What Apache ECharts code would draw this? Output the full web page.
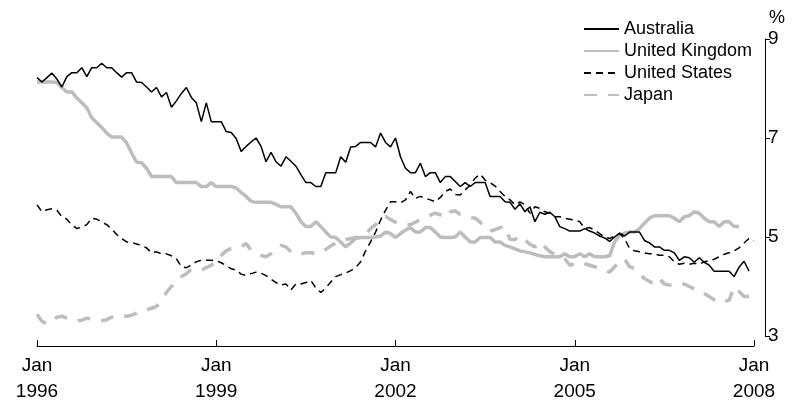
<!DOCTYPE html>
<html>
<head>
<meta charset="utf-8">
<script src="https://cdn.jsdelivr.net/npm/echarts@6/dist/echarts.min.js"></script>
<style>
html,body{margin:0;padding:0;background:#fff;}
#chart{width:796px;height:405px;}
</style>
</head>
<body>
<div id="chart"></div>
<script>
// Monthly categories, Jan 1996 .. Jan 2008
const months = [];
for (let y = 1996; y <= 2008; y++) {
  for (let m = 1; m <= 12; m++) {
    if (y === 2008 && m > 1) break;
    months.push(y + '-' + (m < 10 ? '0' + m : m));
  }
}
const xTickLabels = ['Jan\n1996', 'Jan\n1999', 'Jan\n2002', 'Jan\n2005', 'Jan\n2008'];
const yTicks = [3, 5, 7, 9];

const australia = [
8.22,8.13,8.22,8.31,8.19,8.03,8.24,8.32,8.32,8.42,8.24,8.42,
8.42,8.51,8.42,8.42,8.32,8.23,8.32,8.32,8.13,8.12,8.03,7.93,
8.02,7.83,7.92,7.62,7.75,7.90,8.02,7.82,7.71,7.33,7.71,7.33,
7.33,7.33,7.13,7.11,6.99,6.73,6.83,6.92,7.00,6.83,6.52,6.71,
6.52,6.43,6.62,6.53,6.43,6.26,6.10,6.10,6.02,6.02,6.30,6.30,
6.30,6.62,6.51,6.82,6.83,6.91,6.91,6.91,6.82,7.10,6.91,6.82,
7.00,6.62,6.39,6.30,6.30,6.49,6.22,6.30,6.30,6.10,6.22,6.22,
6.12,6.02,6.10,6.02,6.10,6.10,6.10,5.82,5.82,5.82,5.71,5.70,
5.56,5.67,5.51,5.61,5.31,5.50,5.46,5.50,5.41,5.21,5.17,5.12,
5.12,5.12,5.17,5.12,5.08,5.02,4.98,4.91,5.00,5.08,5.02,5.10,
5.10,5.10,4.93,4.88,4.80,4.80,4.73,4.73,4.68,4.53,4.60,4.58,
4.49,4.58,4.49,4.43,4.31,4.31,4.31,4.31,4.20,4.39,4.51,4.31
];
const unitedKingdom = [
8.13,8.13,8.13,8.13,8.12,8.02,7.93,7.93,7.81,7.71,7.61,7.41,
7.31,7.21,7.10,7.02,7.02,7.02,6.90,6.70,6.51,6.50,6.39,6.22,
6.22,6.22,6.22,6.22,6.10,6.10,6.10,6.10,6.10,6.02,6.02,6.10,
6.02,6.02,6.02,6.02,5.99,5.90,5.82,5.72,5.70,5.70,5.70,5.70,
5.66,5.61,5.61,5.61,5.48,5.31,5.21,5.21,5.31,5.21,5.10,5.00,
4.99,4.90,4.80,4.88,4.97,4.99,4.99,4.99,5.00,5.02,5.10,5.07,
4.99,5.07,5.14,5.19,5.10,5.10,5.19,5.19,5.10,5.00,4.99,4.99,
5.00,5.10,5.00,4.90,4.90,4.99,4.99,4.99,4.90,4.90,4.83,4.80,
4.76,4.72,4.70,4.68,4.65,4.62,4.60,4.60,4.60,4.60,4.66,4.60,
4.60,4.66,4.60,4.66,4.60,4.60,4.60,4.62,4.90,5.04,5.08,5.10,
5.10,5.17,5.28,5.38,5.43,5.43,5.43,5.43,5.38,5.31,5.41,5.43,
5.51,5.48,5.38,5.31,5.31,5.21,5.31,5.31,5.21,5.21
];
const unitedStates = [
5.65,5.51,5.55,5.57,5.54,5.41,5.36,5.24,5.17,5.20,5.25,5.38,
5.36,5.30,5.25,5.16,5.05,4.97,4.90,4.89,4.86,4.83,4.78,4.68,
4.70,4.66,4.66,4.62,4.56,4.40,4.38,4.43,4.50,4.53,4.53,4.53,
4.52,4.48,4.42,4.36,4.33,4.25,4.22,4.26,4.29,4.27,4.22,4.15,
4.08,4.03,4.05,3.93,4.05,4.05,4.08,4.12,3.97,3.88,3.97,4.09,
4.20,4.24,4.27,4.32,4.38,4.50,4.72,4.90,5.10,5.34,5.54,5.71,
5.71,5.69,5.75,5.92,5.78,5.82,5.78,5.75,5.71,5.80,5.92,5.97,
5.86,5.85,5.95,6.05,6.19,6.27,6.15,6.10,6.03,5.92,5.82,5.75,
5.65,5.71,5.65,5.48,5.61,5.58,5.51,5.48,5.41,5.41,5.38,5.36,
5.34,5.31,5.17,5.19,5.14,5.07,5.00,4.97,5.02,5.07,4.97,4.77,
4.72,4.70,4.68,4.66,4.66,4.63,4.63,4.60,4.50,4.45,4.47,4.45,
4.47,4.45,4.50,4.52,4.55,4.60,4.65,4.68,4.72,4.78,4.88,4.97,
4.93
];
const japan = [
3.44,3.30,3.24,3.30,3.38,3.40,3.36,3.33,3.31,3.32,3.36,3.34,
3.33,3.31,3.33,3.38,3.40,3.40,3.40,3.42,3.46,3.51,3.53,3.56,
3.60,3.72,3.88,4.00,4.10,4.20,4.26,4.35,4.34,4.33,4.38,4.43,
4.50,4.63,4.72,4.77,4.78,4.80,4.87,4.73,4.68,4.63,4.60,4.66,
4.73,4.83,4.80,4.70,4.66,4.66,4.68,4.68,4.66,4.68,4.75,4.82,
4.88,4.93,4.95,4.97,4.99,5.00,5.05,5.17,5.25,5.35,5.42,5.35,
5.30,5.27,5.25,5.25,5.30,5.35,5.41,5.44,5.48,5.45,5.39,5.51,
5.53,5.45,5.41,5.40,5.38,5.30,5.18,5.12,5.15,5.19,5.21,4.95,
4.95,5.02,4.95,4.85,4.80,4.90,4.80,4.70,4.65,4.60,4.56,4.43,
4.46,4.49,4.46,4.43,4.40,4.37,4.33,4.29,4.40,4.50,4.56,4.40,
4.36,4.25,4.16,4.10,4.05,4.16,4.05,4.03,4.02,4.05,4.05,4.00,
3.95,3.92,3.86,3.80,3.73,3.67,3.70,3.72,3.99,3.90,3.80,3.80
];

const GREY = '#bdbdbd';
const FONT = '"Liberation Sans", Arial, sans-serif';

const chart = echarts.init(document.getElementById('chart'), null, {renderer: 'canvas'});
chart.setOption({
  animation: false,
  backgroundColor: '#fff',
  grid: {left: 37, right: 42, top: 39, bottom: 69, containLabel: false},
  legend: {
    orient: 'vertical',
    left: 583,
    top: 20,
    padding: 0,
    itemWidth: 35,
    itemHeight: 14,
    itemGap: 4,
    itemStyle: {color: 'rgba(0,0,0,0)', borderColor: 'rgba(0,0,0,0)', borderWidth: 0, opacity: 0},
    textStyle: {fontFamily: FONT, fontSize: 18, color: '#000', lineHeight: 18},
    data: ['Australia', 'United Kingdom', 'United States', 'Japan']
  },
  xAxis: {
    type: 'category',
    data: months,
    boundaryGap: false,
    offset: 10,
    axisLine: {show: true, lineStyle: {color: '#000', width: 1}},
    axisTick: {show: true, inside: true, length: 6, interval: 35, lineStyle: {color: '#000'}},
    axisLabel: {
      interval: 35,
      margin: 7,
      fontFamily: FONT,
      fontSize: 19,
      lineHeight: 26,
      color: '#000',
      formatter: function (v, i) { return xTickLabels[Math.round(i / 36)]; }
    },
    splitLine: {show: false}
  },
  yAxis: {
    type: 'value',
    position: 'right',
    offset: 11,
    min: yTicks[0],
    max: yTicks[yTicks.length - 1],
    interval: 2,
    name: '%',
    nameLocation: 'end',
    nameGap: 12,
    nameTextStyle: {fontFamily: FONT, fontSize: 18, color: '#000', align: 'left', padding: [0, 0, 0, 4]},
    axisLine: {show: true, lineStyle: {color: '#000', width: 1}},
    axisTick: {show: true, inside: false, length: 5, lineStyle: {color: '#000'}},
    axisLabel: {margin: 3, fontFamily: FONT, fontSize: 19, color: '#000'},
    splitLine: {show: false}
  },
  series: [
    {name: 'Australia', type: 'line', data: australia, symbol: 'none', z: 5,
     lineStyle: {color: '#000', width: 1.5, type: 'solid'}, itemStyle: {color: '#000'}},
    {name: 'United Kingdom', type: 'line', data: unitedKingdom, symbol: 'none', z: 2,
     lineStyle: {color: GREY, width: 3.5, type: 'solid'}, itemStyle: {color: GREY}},
    {name: 'United States', type: 'line', data: unitedStates, symbol: 'none', z: 4,
     lineStyle: {color: '#000', width: 1.5, type: [7, 5]}, itemStyle: {color: '#000'}},
    {name: 'Japan', type: 'line', data: japan, symbol: 'none', z: 1,
     lineStyle: {color: GREY, width: 3.5, type: [13, 11]}, itemStyle: {color: GREY}}
  ]
});
</script>
</body>
</html>
